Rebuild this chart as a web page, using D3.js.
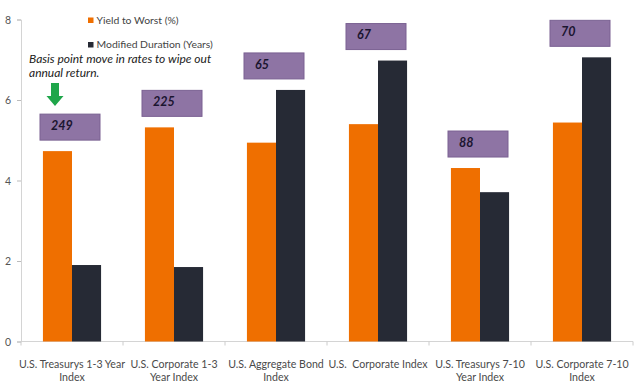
<!DOCTYPE html>
<html>
<head>
<meta charset="utf-8">
<script src="https://cdn.jsdelivr.net/npm/d3@7"></script>
<style>
    body { margin: 0; background: #fff; }
    text { font-family: Lato, "Open Sans", sans-serif; }
</style>
</head>
<body>
<div id="chart"></div>
<script>
// data
const categories = [
    ["U.S. Treasurys 1-3 Year", "Index"],
    ["U.S. Corporate 1-3", "Year Index"],
    ["U.S. Aggregate Bond", "Index"],
    ["U.S.  Corporate Index"],
    ["U.S. Treasurys 7-10", "Year Index"],
    ["U.S. Corporate 7-10", "Index"],
]
const yieldToWorst = [4.73, 5.32, 4.94, 5.40, 4.31, 5.44]
const modDuration = [1.90, 1.85, 6.25, 6.98, 3.71, 7.06]
const bpMove = ["249", "225", "65", "67", "88", "70"]
const seriesNames = ["Yield to Worst (%)", "Modified Duration (Years)"]
const yTicks = [0, 2, 4, 6, 8]

const colors = ["#ef6f00", "#262a35"]

const W = 640, H = 382
const margin = { top: 19.5, right: 7, bottom: 40.5, left: 21 }
const width = W - margin.left - margin.right
const height = H - margin.top - margin.bottom

const svg = d3.select('#chart').append('svg')
    .attr('width', W)
    .attr('height', H)
const g = svg.append('g')
    .attr('transform', `translate(${margin.left}, ${margin.top})`)

const idx = d3.range(categories.length)
const x0 = d3.scaleBand().domain(idx).range([0, width]).paddingInner(0.43).paddingOuter(0.215)
const x1 = d3.scaleBand().domain([0, 1]).range([0, x0.bandwidth()])
const y = d3.scaleLinear().domain([0, 8]).range([height, 0])
const step = x0.step()

// y axis
const yAxis = g.append('g').call(d3.axisLeft(y).tickValues(yTicks).tickSize(4).tickPadding(6))
yAxis.select('.domain').attr('stroke', '#d4d4d4')
yAxis.selectAll('.tick line').attr('stroke', '#bbb')
yAxis.selectAll('.tick text').attr('fill', '#555').style('font-size', '10.5px').attr('dy', '0.35em')

// x axis line + boundary ticks
g.append('line')
    .attr('x1', 0).attr('x2', width)
    .attr('y1', height).attr('y2', height)
    .attr('stroke', '#d4d4d4')
d3.range(categories.length + 1).forEach(i => {
    g.append('line')
        .attr('x1', i * step).attr('x2', i * step)
        .attr('y1', height).attr('y2', height + 4)
        .attr('stroke', '#ccc')
})

// bars
const groups = g.selectAll('.grp').data(idx).enter().append('g')
    .attr('transform', i => `translate(${x0(i)},0)`)
groups.selectAll('rect')
    .data(i => [yieldToWorst[i], modDuration[i]])
    .enter().append('rect')
    .attr('x', (d, j) => x1(j))
    .attr('y', d => y(d))
    .attr('width', x1.bandwidth())
    .attr('height', d => height - y(d))
    .attr('fill', (d, j) => colors[j])

// category labels
idx.forEach(i => {
    const t = g.append('text')
        .attr('x', x0(i) + x0.bandwidth() / 2)
        .attr('y', height + 26.5)
        .attr('text-anchor', 'middle')
        .attr('fill', '#4a4a4a')
        .style('font-size', '10.6px')
        .style('white-space', 'pre')
    categories[i].forEach((line, k) => {
        t.append('tspan')
            .attr('x', x0(i) + x0.bandwidth() / 2)
            .attr('dy', k == 0 ? 0 : 13)
            .text(line)
    })
})

// purple boxes with the basis point move
const boxW = 60, boxH = 26
idx.forEach(i => {
    const top = y(Math.max(yieldToWorst[i], modDuration[i]))
    const bx = x0(i) + x0.bandwidth() / 2 - boxW / 2 - 2
    const by = top - 11 - boxH
    g.append('rect')
        .attr('x', bx).attr('y', by)
        .attr('width', boxW).attr('height', boxH)
        .attr('fill', '#8e74a4')
        .attr('stroke', '#7a6192')
        .attr('stroke-width', 1)
    g.append('text')
        .attr('x', bx + 11).attr('y', by + 11.5)
        .attr('dy', '0.35em')
        .attr('fill', '#1b1530')
        .style('font-size', '12.5px')
        .style('font-weight', 'bold')
        .style('font-style', 'italic')
        .text(bpMove[i])
})

// legend
seriesNames.forEach((name, j) => {
    const ly = 20 + j * 24.5
    svg.append('rect')
        .attr('x', 88).attr('y', ly - 2.5)
        .attr('width', 5.5).attr('height', 5.5)
        .attr('fill', colors[j])
    svg.append('text')
        .attr('x', 96.5).attr('y', ly)
        .attr('dy', '0.35em')
        .attr('fill', '#444')
        .style('font-size', '10.4px')
        .text(name)
})

// annotation
const note = svg.append('g')
    .attr('fill', '#222')
    .style('font-size', '12px')
    .style('font-style', 'italic')
note.append('text').attr('x', 29).attr('y', 63).text('Basis point move in rates to wipe out')
note.append('text').attr('x', 29).attr('y', 77).text('annual return.')

// green arrow
const ax = margin.left + x0(0) + x0.bandwidth() / 2 - 17
const arrow = d3.path()
arrow.moveTo(ax - 4, 83)
arrow.lineTo(ax + 4, 83)
arrow.lineTo(ax + 4, 96)
arrow.lineTo(ax + 8.5, 96)
arrow.lineTo(ax, 106)
arrow.lineTo(ax - 8.5, 96)
arrow.lineTo(ax - 4, 96)
arrow.closePath()
svg.append('path').attr('d', arrow.toString()).attr('fill', '#1fa64a')
</script>
</body>
</html>
